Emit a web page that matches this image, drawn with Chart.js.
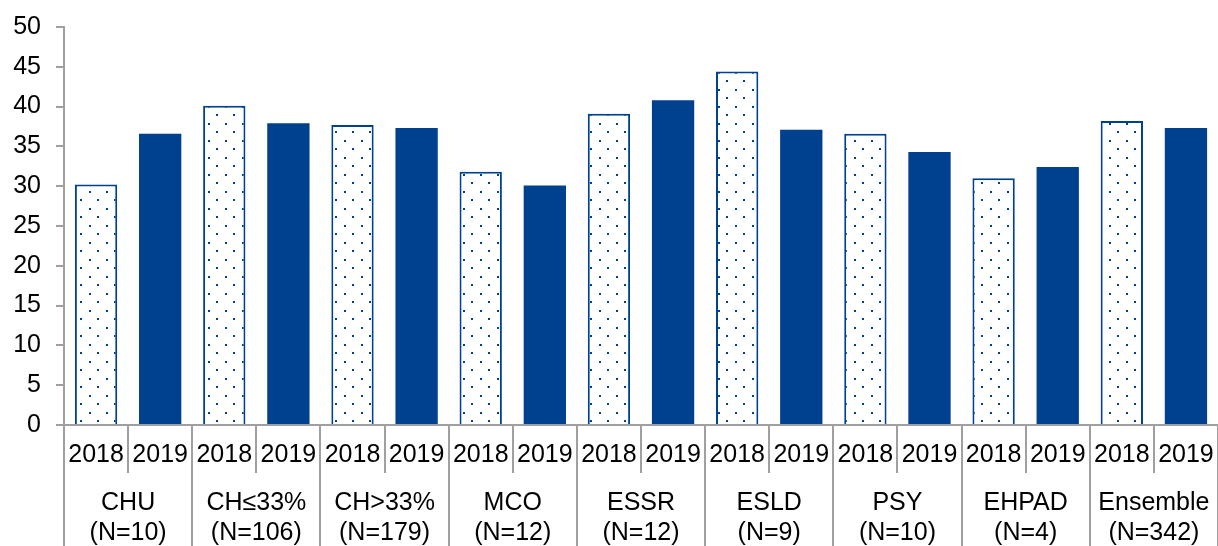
<!DOCTYPE html>
<html lang="fr">
<head>
  <meta charset="UTF-8" />
  <title>2018 / 2019</title>
  <style>
    body {
      margin: 0;
      background: white;
      font-family: "Liberation Sans", Arial, sans-serif;
    }
    .wrap {
      width: 1218px;
      height: 546px;
      position: relative;
    }
  </style>
  <script src="https://cdn.jsdelivr.net/npm/chart.js"></script>
</head>
<body>

<div class="wrap">
  <canvas id="chart"></canvas>
</div>

<script>
  const groups = [
    ["CHU", "(N=10)"],
    ["CH≤33%", "(N=106)"],
    ["CH>33%", "(N=179)"],
    ["MCO", "(N=12)"],
    ["ESSR", "(N=12)"],
    ["ESLD", "(N=9)"],
    ["PSY", "(N=10)"],
    ["EHPAD", "(N=4)"],
    ["Ensemble", "(N=342)"]
  ];
  const years = ["2018", "2019"];
  const values2018 = [30.2, 40.1, 37.7, 31.8, 39.1, 44.4, 36.6, 31.0, 38.2];
  const values2019 = [36.6, 37.9, 37.3, 30.1, 40.8, 37.1, 34.3, 32.4, 37.3];
  const yTicks = [0, 5, 10, 15, 20, 25, 30, 35, 40, 45, 50];

  const blue = '#00418F';
  const axisGrey = '#a0a0a0';

  // dotted fill for the 2018 bars
  function dotPattern() {
    const c = document.createElement('canvas');
    c.width = 17;
    c.height = 17;
    const g = c.getContext('2d');
    g.fillStyle = 'white';
    g.fillRect(0, 0, 17, 17);
    g.fillStyle = blue;
    g.fillRect(4, 4, 2, 2);
    g.fillRect(12, 12, 2, 2);
    return g.createPattern(c, 'repeat');
  }

  // one category per year inside each group
  const labels = [];
  const data2018 = [];
  const data2019 = [];
  groups.forEach((g, i) => {
    labels.push(years[0], years[1]);
    data2018.push(values2018[i], null);
    data2019.push(null, values2019[i]);
  });

  const font = { family: '"Liberation Sans", Arial, sans-serif', size: 25 };

  // keep the plot flush with the canvas edges
  function noSidePadding(s) {
    s.paddingLeft = 0;
    s.paddingRight = 0;
  }

  new Chart(document.getElementById('chart'), {
    type: 'bar',
    data: {
      labels: labels,
      datasets: [{
        label: years[0],
        data: data2018,
        backgroundColor: dotPattern(),
        borderColor: blue,
        borderWidth: 2,
        barPercentage: 0.66,
        categoryPercentage: 1
      }, {
        label: years[1],
        data: data2019,
        backgroundColor: blue,
        borderWidth: 0,
        barPercentage: 0.66,
        categoryPercentage: 1
      }]
    },
    options: {
      responsive: true,
      maintainAspectRatio: false,
      animation: false,
      layout: {
        padding: { top: 27, right: 0, bottom: 0, left: 0 }
      },
      plugins: {
        legend: { display: false },
        tooltip: { enabled: false }
      },
      scales: {
        x: {
          stacked: true,
          offset: true,
          grid: {
            offset: true,
            drawOnChartArea: false,
            tickLength: 48,
            color: axisGrey,
            lineWidth: 2
          },
          border: { color: axisGrey, width: 2 },
          ticks: {
            color: '#000',
            font: font,
            padding: -33,
            maxRotation: 0,
            autoSkip: false
          },
          afterFit: s => { s.height = 48; noSidePadding(s); }
        },
        x2: {
          type: 'category',
          position: 'bottom',
          labels: groups,
          offset: true,
          grid: {
            offset: true,
            drawOnChartArea: false,
            tickLength: 73,
            color: axisGrey,
            lineWidth: 2
          },
          border: { display: false },
          ticks: {
            color: '#000',
            font: Object.assign({ lineHeight: 1.2 }, font),
            padding: -58,
            maxRotation: 0,
            autoSkip: false
          },
          afterFit: s => { s.height = 73; noSidePadding(s); }
        },
        y: {
          min: 0,
          max: 50,
          afterBuildTicks: s => { s.ticks = yTicks.map(v => ({ value: v })); },
          grid: {
            drawOnChartArea: false,
            tickLength: 8,
            color: axisGrey,
            lineWidth: 2
          },
          border: { color: axisGrey, width: 2 },
          ticks: {
            color: '#000',
            font: font,
            padding: 15
          },
          afterFit: s => {
            s.width = 64;
            s.paddingTop = 0;
            s.paddingBottom = 0;
          }
        }
      }
    }
  });
</script>

</body>
</html>
